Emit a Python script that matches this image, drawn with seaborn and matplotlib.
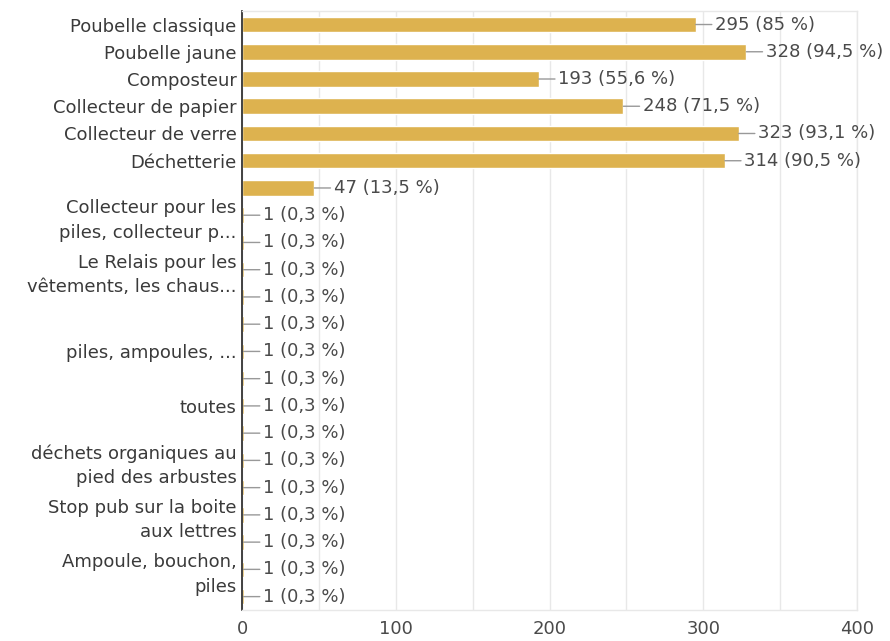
import pandas as pd
import seaborn as sns
import matplotlib.pyplot as plt

# one row per bar, top to bottom; blank labels are the ones the chart hides
labels = ["Poubelle classique", "Poubelle jaune", "Composteur",
          "Collecteur de papier", "Collecteur de verre", "Déchetterie", "",
          "Collecteur pour les\npiles, collecteur p...", "",
          "Le Relais pour les\nvêtements, les chaus...", "", "",
          "piles, ampoules, ...", "", "toutes", "",
          "déchets organiques au\npied des arbustes", "",
          "Stop pub sur la boite\naux lettres", "",
          "Ampoule, bouchon,\npiles", ""]
counts = [295, 328, 193, 248, 323, 314, 47] + [1] * 15
percents = [85, 94.5, 55.6, 71.5, 93.1, 90.5, 13.5] + [0.3] * 15
x_ticks = [0, 100, 200, 300, 400]


def show_data():
    df = pd.DataFrame({'row': [f"r{i}" for i in range(len(counts))],
                       'count': counts})

    sns.set_style('white')
    plt.rcParams['font.family'] = ['DejaVu Sans']

    fig = plt.figure(figsize=(8.9, 6.41), dpi=100)
    ax = fig.add_axes([0.272, 0.048, 0.691, 0.935])
    sns.barplot(data=df, x='count', y='row', orient='h', color='#ddb24f',
                saturation=1, width=0.57, ax=ax)

    # value labels with a short connector line
    for i, (c, p) in enumerate(zip(counts, percents)):
        txt = f"{c} ({p:g} %)".replace('.', ',')
        ax.annotate(txt, xy=(c, i), xytext=(14, 0), textcoords='offset points',
                    ha='left', va='center', fontsize=13, color='#4a4a4a',
                    annotation_clip=False,
                    arrowprops=dict(arrowstyle='-', color='#999999', lw=1,
                                    shrinkA=0, shrinkB=0, relpos=(0, 0.5)))

    ax.set_xlim(0, 400)
    ax.set_xticks(x_ticks)
    ax.set_xticks(range(50, 400, 100), minor=True)
    ax.grid(axis='x', which='both', color='#e8e8e8', lw=1)
    ax.set_axisbelow(True)

    ax.set_yticks(range(len(labels)))
    ax.set_yticklabels(labels, linespacing=1.45)
    ax.tick_params(axis='y', length=0, pad=4, labelsize=13, labelcolor='#3a3a3a')
    ax.tick_params(axis='x', which='both', length=0, pad=7, labelsize=13,
                   labelcolor='#4a4a4a')
    ax.set_xlabel('')
    ax.set_ylabel('')

    for side in ['top', 'right', 'bottom']:
        ax.spines[side].set_color('#e8e8e8')
        ax.spines[side].set_linewidth(1)
    ax.spines['left'].set_color('#333333')
    ax.spines['left'].set_linewidth(1.3)

    plt.savefig('out.png', dpi=100)


if __name__ == "__main__":
    show_data()
